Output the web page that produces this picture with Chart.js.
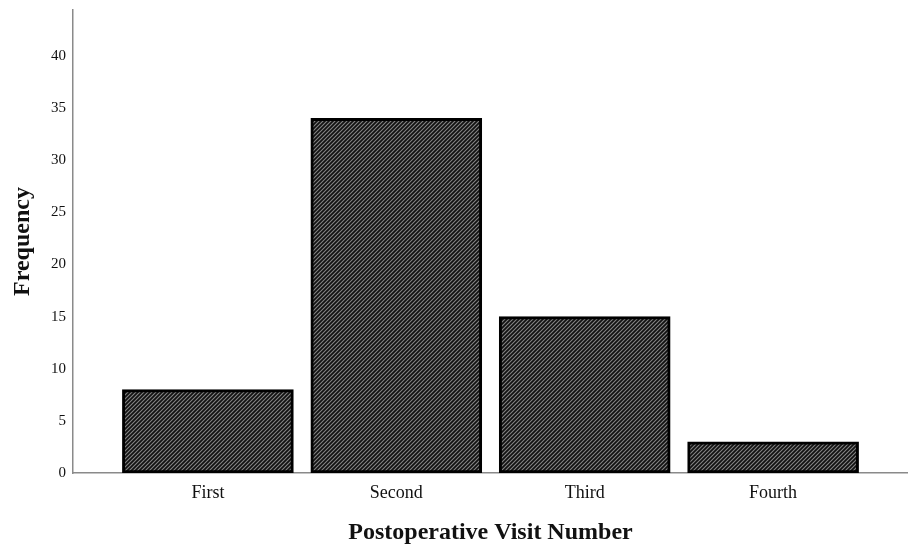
<!DOCTYPE html>
<html>
<head>
<meta charset="utf-8">
<script src="https://cdn.jsdelivr.net/npm/chart.js@4/dist/chart.umd.min.js"></script>
<style>
  html, body { margin: 0; padding: 0; background: #fff; }
  #kutu { width: 908px; height: 547px; }
</style>
</head>
<body>
<div id="kutu"><canvas id="frekansChart"></canvas></div>
<script>
var ziyaretler = ["First", "Second", "Third", "Fourth"];
var frekanslar = [8, 34, 15, 3];
var yEtiketleri = [0, 5, 10, 15, 20, 25, 30, 35, 40];

/*TARALI DOLGU DESENİ*/
function taraliDesen() {
  var c = document.createElement("canvas");
  c.width = 4;
  c.height = 4;
  var g = c.getContext("2d");
  g.fillStyle = "#111";
  g.fillRect(0, 0, 4, 4);
  g.strokeStyle = "#858585";
  g.lineWidth = 1.1;
  g.beginPath();
  g.moveTo(-1, 5); g.lineTo(5, -1);
  g.moveTo(-1, 1); g.lineTo(1, -1);
  g.moveTo(3, 5); g.lineTo(5, 3);
  g.stroke();
  return g.createPattern(c, "repeat");
}
/*TARALI DOLGU DESENİ*/

var noktalar = [];
for (var i = 0; i < frekanslar.length; i++) {
  noktalar.push({x: i, y: frekanslar[i]});
}

var ctx = document.getElementById("frekansChart");
var myChart = new Chart(ctx, {
  type: 'bar',
  data: {
    datasets: [{
      label: 'Frequency',
      data: noktalar,
      backgroundColor: taraliDesen(),
      borderColor: "#000",
      borderWidth: 3,
      borderSkipped: false,
      barThickness: 171
    }]
  },
  options: {
    responsive: true,
    maintainAspectRatio: false,
    animation: false,
    layout: { padding: { top: 10, right: 0, left: 0, bottom: 0 } },
    plugins: { legend: { display: false }, tooltip: { enabled: false } },
    scales: {
      x: {
        type: 'linear',
        offset: false,
        min: -0.716,
        max: 3.716,
        afterFit: function (s) { s.height = 74; },
        afterBuildTicks: function (s) {
          s.ticks = ziyaretler.map(function (z, i) { return {value: i}; });
        },
        grid: { display: false, drawTicks: false },
        border: { color: "#8a8a8a", width: 1.5 },
        ticks: {
          color: "#111",
          padding: 9,
          maxRotation: 0,
          font: { family: "Liberation Serif", size: 18 },
          callback: function (v) { return ziyaretler[v]; }
        },
        title: {
          display: true,
          text: "Postoperative Visit Number",
          color: "#111",
          padding: { top: 0, bottom: 0 },
          font: { family: "Liberation Serif", size: 24, weight: 'bold' }
        }
      },
      y: {
        min: 0,
        max: 44.4,
        afterFit: function (s) { s.width = 73; s.paddingTop = 0; },
        afterBuildTicks: function (s) {
          s.ticks = yEtiketleri.map(function (v) { return {value: v}; });
        },
        grid: { display: false, drawTicks: false },
        border: { color: "#8a8a8a", width: 1.5 },
        ticks: {
          color: "#111",
          padding: 7,
          font: { family: "Liberation Serif", size: 15 }
        },
        title: {
          display: true,
          text: "Frequency",
          color: "#111",
          padding: { top: 8, bottom: 0 },
          font: { family: "Liberation Serif", size: 24, weight: 'bold' }
        }
      }
    }
  }
});
</script>
</body>
</html>
